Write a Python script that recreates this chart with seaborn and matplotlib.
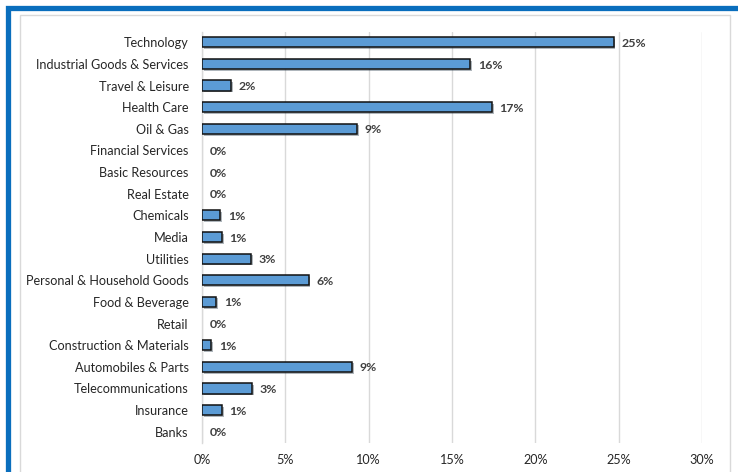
import matplotlib
matplotlib.use("Agg")
import matplotlib.pyplot as plt
import matplotlib.patches as mpatches
import matplotlib.patheffects as pe
import seaborn as sns
import pandas as pd
from matplotlib.ticker import FuncFormatter

categories = [
    "Technology", "Industrial Goods & Services", "Travel & Leisure", "Health Care",
    "Oil & Gas", "Financial Services", "Basic Resources", "Real Estate", "Chemicals",
    "Media", "Utilities", "Personal & Household Goods", "Food & Beverage", "Retail",
    "Construction & Materials", "Automobiles & Parts", "Telecommunications",
    "Insurance", "Banks",
]
values = [24.7, 16.1, 1.75, 17.4, 9.3, 0.0, 0.0, 0.0, 1.1, 1.2, 2.95, 6.4, 0.85,
          0.0, 0.55, 9.0, 3.0, 1.2, 0.0]
xticks = [0, 5, 10, 15, 20, 25, 30]

df = pd.DataFrame({"sector": categories, "weight": values})

sns.set_theme(style="white")
plt.rcParams["font.family"] = ["Lato", "DejaVu Sans"]

W, H = 738, 472
fig = plt.figure(figsize=(W / 100, H / 100), dpi=100)
fig.patch.set_facecolor("white")

# frames
fig.patches.append(mpatches.Rectangle((7.5 / W, -0.1), 1.2, 1 - 7.5 / H + 0.1,
                                      transform=fig.transFigure, fill=False,
                                      edgecolor="#0A6EBD", linewidth=3.8, zorder=0))
fig.patches.append(mpatches.Rectangle((19.5 / W, -0.1), (730 - 19.5) / W, 1 - 14.5 / H + 0.1,
                                      transform=fig.transFigure, fill=False,
                                      edgecolor="#D9D9D9", linewidth=1.0, zorder=0))

ax = fig.add_axes([202 / W, 1 - 442.5 / H, 500 / W, (442.5 - 31.5) / H])
sns.barplot(data=df, x="weight", y="sector", orient="h", ax=ax, color="#5B9BD5",
            edgecolor="#111111", linewidth=1.1, width=0.47, saturation=1)
for p, v in zip(ax.patches, values):
    if v == 0:
        p.set_visible(False)
        continue
    p.set_path_effects([pe.SimplePatchShadow(offset=(1.2, -1.2), alpha=0.35),
                        pe.Normal()])
    p.set_zorder(3)

for i, v in enumerate(values):
    ax.text(v + 0.45, i + 0.05, f"{v:.0f}%", va="center", ha="left", fontsize=8.9,
            fontweight="bold", color="#404040")

ax.set_xlim(0, 30)
ax.set_xticks(xticks)
ax.xaxis.set_major_formatter(FuncFormatter(lambda x, _: f"{x:.0f}%"))
ax.grid(axis="x", color="#D9D9D9", linewidth=1.0, zorder=0)
ax.set_axisbelow(True)
for s in ["top", "right", "bottom"]:
    ax.spines[s].set_visible(False)
ax.spines["left"].set_color("#D9D9D9")
ax.spines["left"].set_linewidth(1.0)
ax.set_xlabel("")
ax.set_ylabel("")
ax.tick_params(axis="y", length=0, pad=9.5, labelsize=9.1, labelcolor="#262626")
ax.tick_params(axis="x", length=0, pad=8.5, labelsize=9.1, labelcolor="#262626")

fig.savefig("out.png", dpi=100)
